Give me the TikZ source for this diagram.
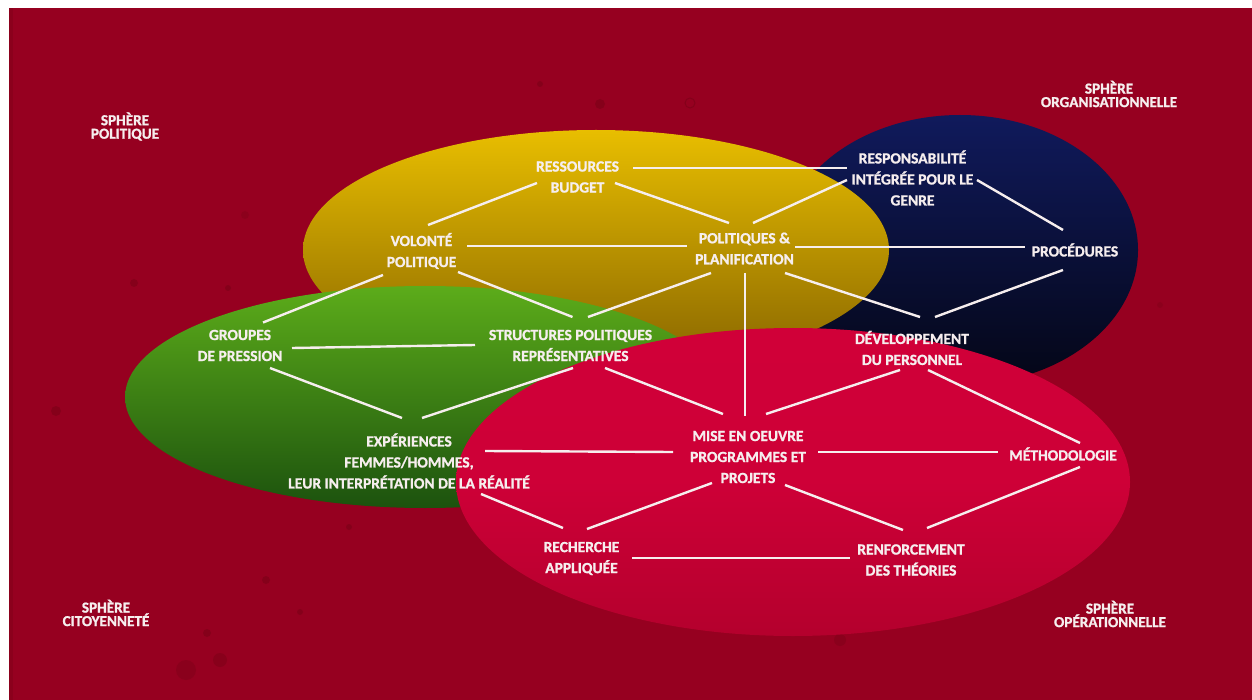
\documentclass[tikz,border=0pt]{standalone}
\usepackage{fontspec}
\setmainfont{Carlito}[BoldFeatures={FakeBold=1.2}]
\definecolor{bg}{RGB}{150,0,32}
\definecolor{spotc}{RGB}{120,0,22}
\definecolor{yelT}{RGB}{232,190,0}
\definecolor{yelB}{RGB}{135,100,0}
\definecolor{navT}{RGB}{16,26,92}
\definecolor{navB}{RGB}{4,6,22}
\definecolor{grnT}{RGB}{92,172,26}
\definecolor{grnB}{RGB}{28,82,14}
\definecolor{redT}{RGB}{208,0,56}
\definecolor{redB}{RGB}{180,0,45}
\definecolor{txt}{RGB}{246,238,238}
\tikzset{
  lbl/.style={text=txt, font=\bfseries\fontsize{15.5}{21}\selectfont, align=center, inner sep=0pt},
  corner/.style={text=txt, font=\bfseries\fontsize{15.2}{13.5}\selectfont, align=center, inner sep=0pt},
  link/.style={draw=txt, line width=2.4pt},
  spot/.style={fill=spotc, opacity=0.55},
  ring/.style={draw=spotc, line width=1pt, opacity=0.6}
}
\begin{document}
\begin{tikzpicture}[x=1pt, y=-1pt]
\useasboundingbox (0,0) rectangle (1252,700);
\fill[white] (0,0) rectangle (1252,700);
\fill[bg] (9,8) rectangle (1252,700);
\fill[spotc, opacity=0.35] (9,8) rectangle (13,700);
% background spots
\fill[spot] (600,104) circle (5);
\fill[spot] (540,84) circle (3);
\draw[ring] (690,103) circle (5);
\fill[spot] (134,283) circle (4);
\fill[spot] (56,411) circle (5);
\fill[spot] (228,288) circle (3);
\fill[spot, opacity=0.3] (245,215) circle (4);
\fill[spot, opacity=0.4] (186,670) circle (10);
\fill[spot, opacity=0.45] (220,660) circle (7);
\fill[spot] (207,633) circle (4);
\fill[spot] (266,580) circle (4);
\fill[spot] (300,612) circle (3);
\fill[spot] (349,527) circle (3);
\fill[spot, opacity=0.3] (1160,305) circle (3);
\fill[spot, opacity=0.4] (840,640) circle (6);
% spheres
\shade[top color=navT, bottom color=navB] (960,250) ellipse [x radius=178, y radius=135];
\shade[top color=yelT, bottom color=yelB] (596,250) ellipse [x radius=293, y radius=120];
\shade[top color=grnT, bottom color=grnB] (425,397) ellipse [x radius=300, y radius=111];
\shade[top color=redT, bottom color=redB, middle color=redT!92!redB] (793,482) ellipse [x radius=337, y radius=154];
% corner labels
\node[corner] (sp)  at (125,126.5) {SPHÈRE\\POLITIQUE};
\node[corner] (so)  at (1109,94)   {SPHÈRE\\ORGANISATIONNELLE};
\node[corner] (sc)  at (106,613)   {SPHÈRE\\CITOYENNETÉ};
\node[corner] (sop) at (1110,614)  {SPHÈRE\\OPÉRATIONNELLE};
% nodes
\node[lbl] (res)  at (577.5,177)  {RESSOURCES\\BUDGET};
\node[lbl] (resp) at (912.5,178)  {RESPONSABILITÉ\\INTÉGRÉE POUR LE\\GENRE};
\node[lbl] (vol)  at (421.5,251)  {VOLONTÉ\\POLITIQUE};
\node[lbl] (pol)  at (744.5,248.5){POLITIQUES \&\\PLANIFICATION};
\node[lbl] (proc) at (1075,250)   {PROCÉDURES};
\node[lbl] (grp)  at (240,345.5)  {GROUPES\\DE PRESSION};
\node[lbl] (str)  at (570.5,345.5){STRUCTURES POLITIQUES\\REPRÉSENTATIVES};
\node[lbl] (dev)  at (912,348)    {DÉVELOPPEMENT\\DU PERSONNEL};
\node[lbl] (exp)  at (409,461)    {EXPÉRIENCES\\FEMMES/HOMMES,\\LEUR INTERPRÉTATION DE LA RÉALITÉ};
\node[lbl] (mise) at (748,457)    {MISE EN OEUVRE\\PROGRAMMES ET\\PROJETS};
\node[lbl] (meth) at (1063,454)   {MÉTHODOLOGIE};
\node[lbl] (rech) at (581.5,558.5){RECHERCHE\\APPLIQUÉE};
\node[lbl] (renf) at (911,560)    {RENFORCEMENT\\DES THÉORIES};
% connectors
\draw[link] ([shift={(55.5,-9)}]res.center) -- ([shift={(-65.5,-10)}]resp.center);
\draw[link] ([shift={(-40.5,6)}]res.center) -- ([shift={(6.5,-26)}]vol.center);
\draw[link] ([shift={(37.5,6)}]res.center) -- ([shift={(-15.5,-25.5)}]pol.center);
\draw[link] ([shift={(8.5,-25.5)}]pol.center) -- ([shift={(-65.5,2)}]resp.center);
\draw[link] ([shift={(45.5,-5)}]vol.center) -- ([shift={(-57.5,-2.5)}]pol.center);
\draw[link] ([shift={(50.5,-1.5)}]pol.center) -- ([shift={(-50,-3)}]proc.center);
\draw[link] ([shift={(64.5,2)}]resp.center) -- ([shift={(-12,-20)}]proc.center);
\draw[link] ([shift={(-12,20)}]proc.center) -- ([shift={(23,-31)}]dev.center);
\draw[link] ([shift={(40.5,24.5)}]pol.center) -- ([shift={(8,-31)}]dev.center);
\draw[link] ([shift={(-38.5,24)}]vol.center) -- ([shift={(23,-23)}]grp.center);
\draw[link] ([shift={(36.5,21)}]vol.center) -- ([shift={(2,-28.5)}]str.center);
\draw[link] ([shift={(-33.5,24.5)}]pol.center) -- ([shift={(17.5,-28.5)}]str.center);
\draw[link] ([shift={(52,2.5)}]grp.center) -- ([shift={(-95.5,-0.5)}]str.center);
\draw[link] ([shift={(30,22.5)}]grp.center) -- ([shift={(-7,-43)}]exp.center);
\draw[link] ([shift={(2.5,22.5)}]str.center) -- ([shift={(13,-43)}]exp.center);
\draw[link] ([shift={(34.5,22.5)}]str.center) -- ([shift={(-25,-43)}]mise.center);
\draw[link] ([shift={(0.5,24.5)}]pol.center) -- ([shift={(-3,-41)}]mise.center);
\draw[link] ([shift={(-12,22)}]dev.center) -- ([shift={(18,-43)}]mise.center);
\draw[link] ([shift={(16,22)}]dev.center) -- ([shift={(17,-11)}]meth.center);
\draw[link] ([shift={(76,-10)}]exp.center) -- ([shift={(-75,-5)}]mise.center);
\draw[link] ([shift={(70,-5)}]mise.center) -- ([shift={(-65,-2)}]meth.center);
\draw[link] ([shift={(-36,26)}]mise.center) -- ([shift={(5.5,-29.5)}]rech.center);
\draw[link] ([shift={(37,28)}]mise.center) -- ([shift={(-8,-30)}]renf.center);
\draw[link] ([shift={(17,13)}]meth.center) -- ([shift={(16,-32)}]renf.center);
\draw[link] ([shift={(72,33)}]exp.center) -- ([shift={(-18.5,-30.5)}]rech.center);
\draw[link] ([shift={(50.5,-0.5)}]rech.center) -- ([shift={(-61,-2)}]renf.center);
\end{tikzpicture}
\end{document}
